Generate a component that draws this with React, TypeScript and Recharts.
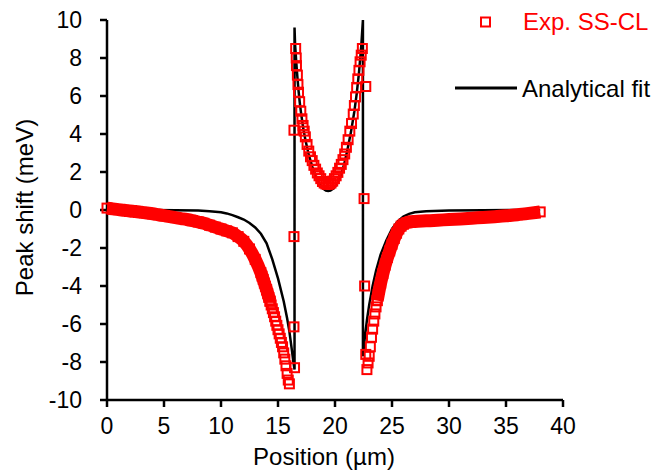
import { ComposedChart, Curve, Label, Legend, Line, Scatter, XAxis, YAxis } from 'recharts'

const FONT = '"Liberation Sans", Arial, Helvetica, sans-serif'
const RED = '#ff0000'
const BLACK = '#000000'

const X_TICKS = [0, 5, 10, 15, 20, 25, 30, 35, 40]
const Y_TICKS = [-10, -8, -6, -4, -2, 0, 2, 4, 6, 8, 10]

// experimental SS-CL data, left flank (dense enough to read as a solid band)
const expLeftX = [0, 0.5, 1, 1.5, 2, 2.5, 3, 3.5, 4, 4.5, 5, 5.5, 6, 6.5, 7, 7.5, 8, 8.5, 9, 9.5, 10, 10.5, 11, 11.5, 12, 12.5, 13, 13.5, 14, 14.3]
const expLeftY = [0.1, 0.06, 0.02, -0.01, -0.05, -0.08, -0.12, -0.16, -0.2, -0.25, -0.3, -0.35, -0.4, -0.45, -0.5, -0.56, -0.63, -0.7, -0.8, -0.9, -1.0, -1.1, -1.2, -1.4, -1.65, -2.05, -2.6, -3.3, -4.2, -4.8]

// steep part before the left dip
const expDipLeftX = [13.6, 13.7, 13.8, 13.9, 14.0, 14.1, 14.2, 14.3, 14.4, 14.5, 14.6, 14.7, 14.8, 14.9, 15.0, 15.1, 15.2, 15.3, 15.4, 15.5, 15.6, 15.7, 15.8, 15.9, 16.0]
const expDipLeftY = [-3.48, -3.65, -3.85, -4.02, -4.2, -4.4, -4.6, -4.8, -5.0, -5.2, -5.4, -5.62, -5.85, -6.07, -6.3, -6.52, -6.75, -6.97, -7.2, -7.52, -7.85, -8.2, -8.6, -8.95, -9.15]

// isolated points across the two jumps
const expJumpX = [16.45, 16.4, 16.4, 16.4, 22.7, 22.55, 22.6, 22.7]
const expJumpY = [-8.3, -6.15, -1.4, 4.2, 6.5, 0.6, -4.0, -7.6]

// the U between the two interfaces
const expWellX = [16.55, 16.6, 16.62, 16.7, 16.75, 16.8, 16.9, 17.0, 17.1, 17.2, 17.3, 17.4, 17.55, 17.7, 17.85, 18.0, 18.15, 18.3, 18.45, 18.6, 18.75, 18.9, 19.05, 19.2, 19.35, 19.5, 19.65, 19.8, 19.95, 20.1, 20.25, 20.4, 20.55, 20.7, 20.85, 21.0, 21.15, 21.3, 21.45, 21.6, 21.7, 21.8, 21.9, 22.0, 22.1, 22.2, 22.3, 22.4]
const expWellY = [8.5, 8.0, 7.6, 7.1, 6.6, 6.2, 5.7, 5.2, 4.8, 4.45, 4.15, 3.85, 3.45, 3.1, 2.8, 2.6, 2.35, 2.15, 1.95, 1.8, 1.65, 1.5, 1.42, 1.37, 1.35, 1.37, 1.42, 1.52, 1.65, 1.8, 1.98, 2.2, 2.4, 2.65, 2.95, 3.3, 3.7, 4.15, 4.55, 5.05, 5.5, 5.95, 6.45, 6.9, 7.35, 7.8, 8.15, 8.5]

// steep part after the right dip
const expDipRightX = [22.8, 22.9, 23.0, 23.1, 23.2, 23.3, 23.4, 23.5, 23.6, 23.7, 23.8, 23.9, 24.0]
const expDipRightY = [-8.4, -8.05, -7.7, -7.2, -6.7, -6.27, -5.85, -5.47, -5.1, -4.77, -4.45, -4.15, -3.85]

// right flank
const expRightX = [23.7, 23.8, 24.0, 24.2, 24.4, 24.6, 24.8, 25.0, 25.2, 25.4, 25.6, 25.8, 26.0, 26.3, 26.6, 27, 28, 29, 30, 31, 32, 33, 34, 35, 36, 37, 38]
const expRightY = [-4.77, -4.45, -3.85, -3.35, -2.9, -2.5, -2.15, -1.8, -1.5, -1.22, -1.0, -0.85, -0.75, -0.67, -0.62, -0.6, -0.57, -0.54, -0.5, -0.47, -0.43, -0.39, -0.35, -0.3, -0.25, -0.18, -0.1]

// analytical fit
const fitX = [0, 4, 6, 8, 9, 10, 10.5, 11, 11.5, 12, 12.5, 13, 13.5, 14, 14.5, 15, 15.5, 15.8, 16.0, 16.2, 16.35, 16.45, 16.45, 16.5, 16.6, 16.7, 16.8, 16.9, 17.0, 17.2, 17.4, 17.7, 18.0, 18.3, 18.6, 18.9, 19.2, 19.4, 19.6, 19.9, 20.2, 20.5, 20.8, 21.1, 21.4, 21.7, 21.9, 22.1, 22.3, 22.45, 22.45, 22.6, 22.8, 23.0, 23.3, 23.6, 24.0, 24.5, 25.0, 25.5, 26.0, 26.5, 27.0, 28, 30, 33, 38]
const fitY = [0, 0, -0.01, -0.03, -0.06, -0.12, -0.18, -0.27, -0.38, -0.5, -0.68, -0.92, -1.25, -1.75, -2.6, -3.6, -4.8, -5.7, -6.4, -7.3, -8.0, -8.4, 9.6, 8.7, 7.8, 7.0, 6.3, 5.7, 5.2, 4.35, 3.7, 2.9, 2.3, 1.8, 1.42, 1.15, 1.02, 1.0, 1.02, 1.15, 1.4, 1.8, 2.4, 3.2, 4.1, 5.2, 6.1, 7.2, 8.6, 10, -7.7, -6.8, -5.8, -5.0, -4.0, -3.2, -2.35, -1.6, -1.0, -0.6, -0.35, -0.2, -0.12, -0.06, -0.02, -0.01, 0]

function toPoints(xs: number[], ys: number[]) {
  return xs.map((x, i) => ({ x, y: ys[i] }))
}

// flanks first and last, so the scatter line can draw them as solid bands
const expPoints = [
  ...toPoints(expLeftX, expLeftY),
  ...toPoints(expDipLeftX, expDipLeftY),
  ...toPoints(expJumpX, expJumpY),
  ...toPoints(expWellX, expWellY),
  ...toPoints(expDipRightX, expDipRightY),
  ...toPoints(expRightX, expRightY),
]
const fitPoints = toPoints(fitX, fitY)

function ExpSquare(props: any) {
  const { cx, cy } = props
  if (cx == null || cy == null) return null
  return <rect x={cx - 4.5} y={cy - 4.5} width={9} height={9} fill="none" stroke={RED} strokeWidth={2} />
}

// the measured points overlap into a continuous band on the flat flanks
function ExpBands(props: any) {
  const pts = props.points || []
  const left = pts.slice(0, expLeftX.length)
  const right = pts.slice(pts.length - expRightX.length)
  return (
    <g>
      <Curve points={left} type="monotoneX" stroke={RED} strokeWidth={13} fill="none" />
      <Curve points={right} type="monotoneX" stroke={RED} strokeWidth={13} fill="none" />
    </g>
  )
}

function XTitle(props: any) {
  const vb = props.viewBox
  return (
    <text x={vb.x + vb.width / 2 - 11} y={vb.y + 65} textAnchor="middle" fontSize={24} fontFamily={FONT} fill={BLACK}>
      Position (µm)
    </text>
  )
}

function YTitle(props: any) {
  const vb = props.viewBox
  const x = vb.x - 14
  const y = vb.y + vb.height / 2 - 2.5
  return (
    <text x={x} y={y} transform={`rotate(-90, ${x}, ${y})`} textAnchor="middle" fontSize={24} fontFamily={FONT} fill={BLACK}>
      Peak shift (meV)
    </text>
  )
}

function ChartLegend() {
  return (
    <svg width={670} height={110} style={{ fontFamily: FONT }}>
      <rect x={481} y={17.5} width={9} height={9} fill="none" stroke={RED} strokeWidth={2} />
      <text x={523} y={29.5} fontSize={24} fill={RED}>
        Exp. SS-CL
      </text>
      <line x1={455} x2={517} y1={88} y2={88} stroke={BLACK} strokeWidth={3} />
      <text x={522} y={96.5} fontSize={24} fill={BLACK}>
        Analytical fit
      </text>
    </svg>
  )
}

export default function App() {
  const tickStyle = { fill: BLACK, fontSize: 23, fontFamily: FONT }
  const axisStroke = { stroke: BLACK, strokeWidth: 2.5 }
  return (
    <div style={{ position: 'absolute', left: 0, top: 0, width: 670, height: 472, background: '#fff' }}>
      <ComposedChart width={670} height={472} margin={{ top: 20, right: 107, bottom: 32, left: 47 }}>
        <XAxis
          type="number"
          dataKey="x"
          domain={[0, 40]}
          ticks={X_TICKS}
          height={40}
          axisLine={axisStroke}
          tickLine={axisStroke}
          tickSize={7}
          tickMargin={11}
          tick={tickStyle}
          interval={0}
        >
          <Label content={XTitle} />
        </XAxis>
        <YAxis
          type="number"
          domain={[-10, 10]}
          ticks={Y_TICKS}
          width={60}
          axisLine={axisStroke}
          tickLine={axisStroke}
          tickSize={7}
          tickMargin={18}
          tick={tickStyle}
          interval={0}
          allowDataOverflow
        >
          <Label content={YTitle} />
        </YAxis>
        <Legend
          layout="horizontal"
          verticalAlign="middle"
          align="center"
          wrapperStyle={{ left: 0, top: 0, width: 670, height: 110 }}
          content={() => <ChartLegend />}
        />
        <Line
          data={fitPoints}
          dataKey="y"
          name="Analytical fit"
          type="linear"
          stroke={BLACK}
          strokeWidth={2.5}
          dot={false}
          activeDot={false}
          isAnimationActive={false}
        />
        <Scatter
          data={expPoints}
          dataKey="y"
          name="Exp. SS-CL"
          line={ExpBands}
          shape={ExpSquare}
          isAnimationActive={false}
        />
      </ComposedChart>
    </div>
  )
}
